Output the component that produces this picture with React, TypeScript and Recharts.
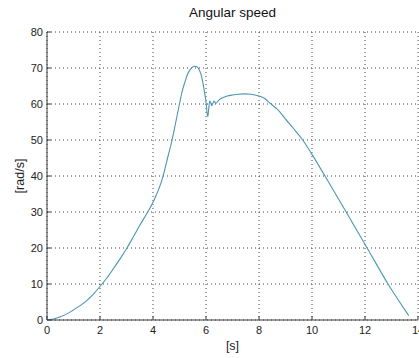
import { LineChart, Line, XAxis, YAxis, CartesianGrid, Label } from 'recharts'

// time samples [s] and angular speed [rad/s]
const TIME = [
  0, 0.25, 0.5, 0.75, 1, 1.25, 1.5, 1.75, 2, 2.25, 2.5, 2.75, 3, 3.25, 3.5, 3.8, 4.05, 4.3, 4.4,
  4.55, 4.72, 4.86, 5.0, 5.1, 5.2, 5.3, 5.41, 5.5, 5.56, 5.64, 5.72, 5.8, 5.88, 5.95, 6.01, 6.04,
  6.07, 6.1, 6.14, 6.18, 6.22, 6.26, 6.3, 6.34, 6.38, 6.45, 6.52, 6.65, 6.8, 7.0, 7.2, 7.45, 7.7,
  8.0, 8.2, 8.45, 8.7, 9.0, 9.3, 9.65, 10.0, 10.49, 11.29, 12.08, 12.87, 13.65,
]
const SPEED = [
  0, 0.3, 0.9, 1.7, 2.8, 4, 5.4, 7.2, 9.3, 11.6, 14.2, 16.9, 19.8, 23, 26.3, 30, 33.5, 38, 40.5,
  45, 50, 55, 60, 63.5, 66, 68.2, 69.6, 70.3, 70.5, 70.4, 69.8, 68.5, 66, 63, 60, 57.5, 56.5, 58.5,
  60.8, 60.3, 59.5, 60.2, 60.8, 60.5, 60.2, 60.8, 61.3, 61.8, 62.2, 62.5, 62.7, 62.8, 62.7, 62.2,
  61.6, 60, 58.5, 55.8, 53.2, 50, 46, 40, 30, 20, 10, 1.2,
]
const X_TICKS = [0, 2, 4, 6, 8, 10, 12, 14]
const Y_TICKS = [0, 10, 20, 30, 40, 50, 60, 70, 80]

const data = TIME.map((t, i) => ({ t, w: SPEED[i] }))

const FONT = '"Liberation Sans", Arial, sans-serif'
const AXIS = '#3a3a3a'
const tickStyle = { fontSize: 11, fill: '#222', fontFamily: FONT }
const blank = () => ''

export default function App() {
  return (
    <div style={{ position: 'absolute', left: 0, top: 0, width: 419, height: 358, background: '#fff' }}>
      <div
        style={{
          position: 'absolute',
          top: 5,
          left: 47,
          width: 371,
          textAlign: 'center',
          fontFamily: FONT,
          fontSize: 13.5,
          color: '#111',
        }}
      >
        Angular speed
      </div>
      <LineChart width={419} height={358} data={data} margin={{ top: 32, right: 1, bottom: 8, left: 0 }}>
        <CartesianGrid stroke="#444" strokeDasharray="1 3" />
        <XAxis
          dataKey="t"
          type="number"
          domain={[0, 14]}
          ticks={X_TICKS}
          height={30}
          tickSize={-4}
          tickMargin={10}
          tick={tickStyle}
          stroke={AXIS}
          interval={0}
        >
          <Label
            content={({ viewBox }: any) => (
              <text
                x={viewBox.x + viewBox.width / 2}
                y={350}
                textAnchor="middle"
                fontSize={12.5}
                fontFamily={FONT}
                fill="#222"
              >
                [s]
              </text>
            )}
          />
        </XAxis>
        <XAxis
          xAxisId="top"
          orientation="top"
          dataKey="t"
          type="number"
          domain={[0, 14]}
          ticks={X_TICKS}
          height={0}
          tickSize={-4}
          tickFormatter={blank}
          stroke={AXIS}
          interval={0}
        />
        <YAxis
          type="number"
          domain={[0, 80]}
          ticks={Y_TICKS}
          width={47}
          tickSize={-4}
          tickMargin={8}
          tick={tickStyle}
          stroke={AXIS}
          interval={0}
        >
          <Label
            content={({ viewBox }: any) => (
              <text
                x={24}
                y={viewBox.y + viewBox.height / 2}
                transform={`rotate(-90 24 ${viewBox.y + viewBox.height / 2})`}
                textAnchor="middle"
                fontSize={12.5}
                fontFamily={FONT}
                fill="#222"
              >
                [rad/s]
              </text>
            )}
          />
        </YAxis>
        <YAxis
          yAxisId="right"
          orientation="right"
          type="number"
          domain={[0, 80]}
          ticks={Y_TICKS}
          width={0}
          tickSize={-4}
          tickFormatter={blank}
          stroke={AXIS}
          interval={0}
        />
        <Line
          type="monotone"
          dataKey="w"
          stroke="#4a96b4"
          strokeWidth={1.1}
          dot={false}
          isAnimationActive={false}
        />
      </LineChart>
    </div>
  )
}
